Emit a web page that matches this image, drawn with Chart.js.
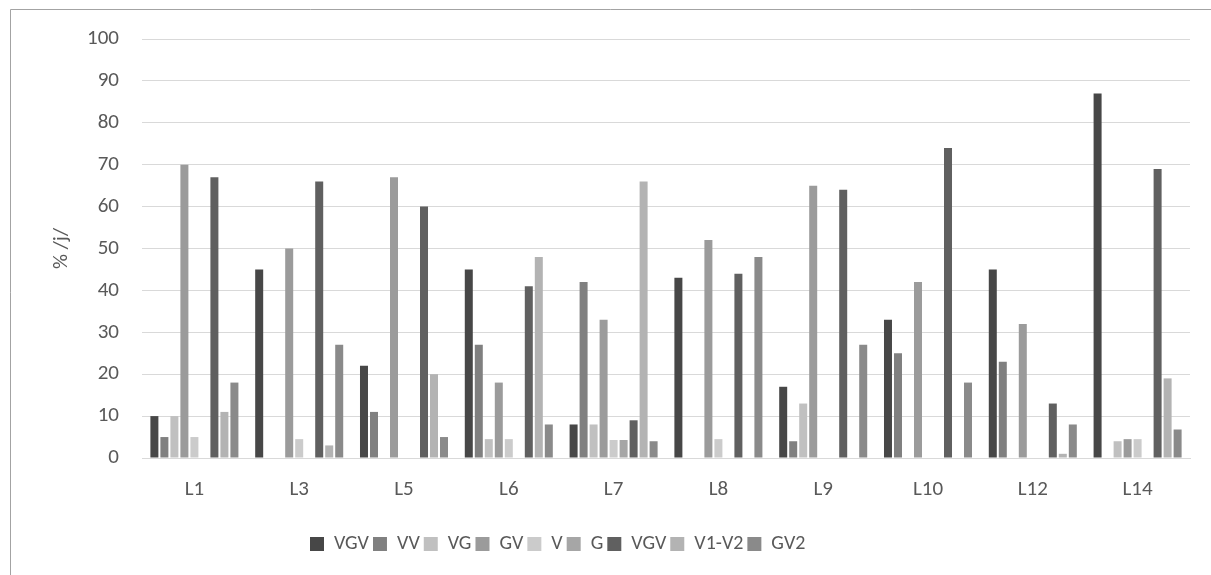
<!DOCTYPE html>
<html>
<head>
<meta charset="utf-8">
<script src="https://cdn.jsdelivr.net/npm/chart.js@4/dist/chart.umd.min.js"></script>
<style>
  html, body { margin: 0; padding: 0; background: #ffffff; }
  #wrap { width: 1211px; height: 575px; position: relative; }
</style>
</head>
<body>
<div id="wrap"><canvas id="c" width="1211" height="575"></canvas></div>
<script>
// ---- data ----
const categories = ['L1', 'L3', 'L5', 'L6', 'L7', 'L8', 'L9', 'L10', 'L12', 'L14'];
const seriesNames = ['VGV', 'VV', 'VG', 'GV', 'V', 'G', 'VGV', 'V1-V2', 'GV2'];
const VGV   = [10, 45, 22, 45, 8, 43, 17, 33, 45, 87];
const VV    = [5, 0, 11, 27, 42, 0, 4, 25, 23, 0];
const VG    = [10, 0, 0, 4.5, 8, 0, 13, 0, 0, 4];
const GV    = [70, 50, 67, 18, 33, 52, 65, 42, 32, 4.5];
const V     = [5, 4.5, 0, 4.5, 4.3, 4.5, 0, 0, 0, 4.5];
const G     = [0, 0, 0, 0, 4.3, 0, 0, 0, 0, 0];
const VGV2  = [67, 66, 60, 41, 9, 44, 64, 74, 13, 69];
const V1V2  = [11, 3, 20, 48, 66, 0, 0, 0, 1, 19];
const GV2   = [18, 27, 5, 8, 4, 48, 27, 18, 8, 6.8];
const yTicks = [0, 10, 20, 30, 40, 50, 60, 70, 80, 90, 100];
const yTitle = '% /j/';

// ---- styles ----
const colors = ['#474747', '#808080', '#c0c0c0', '#9b9b9b', '#cbcbcb', '#a6a6a6', '#606060', '#b3b3b3', '#8a8a8a'];
const seriesValues = [VGV, VV, VG, GV, V, G, VGV2, V1V2, GV2];
const FONT = "'Carlito', 'Liberation Sans', Arial, sans-serif";
const TEXT = '#595959';

const datasets = seriesValues.map((vals, i) => ({
  label: seriesNames[i],
  data: vals,
  backgroundColor: colors[i],
  borderWidth: 0,
  categoryPercentage: 0.859,
  barPercentage: 0.8
}));

const frame = {
  id: 'frame',
  beforeDraw(chart) {
    const ctx = chart.ctx;
    ctx.save();
    ctx.fillStyle = '#ffffff';
    ctx.fillRect(0, 0, chart.width, chart.height);
    ctx.strokeStyle = '#a3a3a3';
    ctx.lineWidth = 1;
    ctx.beginPath();
    ctx.moveTo(10.5, chart.height);
    ctx.lineTo(10.5, 9.5);
    ctx.lineTo(chart.width, 9.5);
    ctx.stroke();
    ctx.restore();
  }
};

const legendShift = {
  id: 'legendShift',
  afterLayout(chart) {
    const lg = chart.legend;
    if (lg) {
      const w = lg.width;
      lg.left = 306;
      lg.right = 306 + w;
    }
  }
};

new Chart(document.getElementById('c'), {
  type: 'bar',
  data: { labels: categories, datasets },
  plugins: [frame, legendShift],
  options: {
    responsive: false,
    animation: false,
    layout: { padding: { top: 39, right: 21, bottom: 11, left: 0 } },
    plugins: {
      tooltip: { enabled: false },
      legend: {
        position: 'bottom',
        align: 'start',
        labels: {
          boxWidth: 14,
          boxHeight: 14,
          padding: 4,
          color: TEXT,
          font: { family: FONT, size: 20 }
        }
      }
    },
    scales: {
      x: {
        grid: { display: false, drawTicks: false },
        border: { display: true, color: '#d9d9d9', width: 1 },
        ticks: { color: TEXT, font: { family: FONT, size: 21 }, padding: 19 },
        afterFit(scale) { scale.height = 72; }
      },
      y: {
        min: 0,
        max: 100,
        afterBuildTicks(scale) { scale.ticks = yTicks.map(v => ({ value: v })); },
        grid: { color: '#d9d9d9', lineWidth: 1, drawTicks: false },
        border: { display: false },
        ticks: { color: TEXT, font: { family: FONT, size: 21 }, padding: 23 },
        title: { display: true, text: yTitle, color: TEXT, font: { family: FONT, size: 21 }, padding: { top: 49, bottom: 0 } },
        afterFit(scale) { scale.width = 142; }
      }
    }
  }
});
</script>
</body>
</html>
